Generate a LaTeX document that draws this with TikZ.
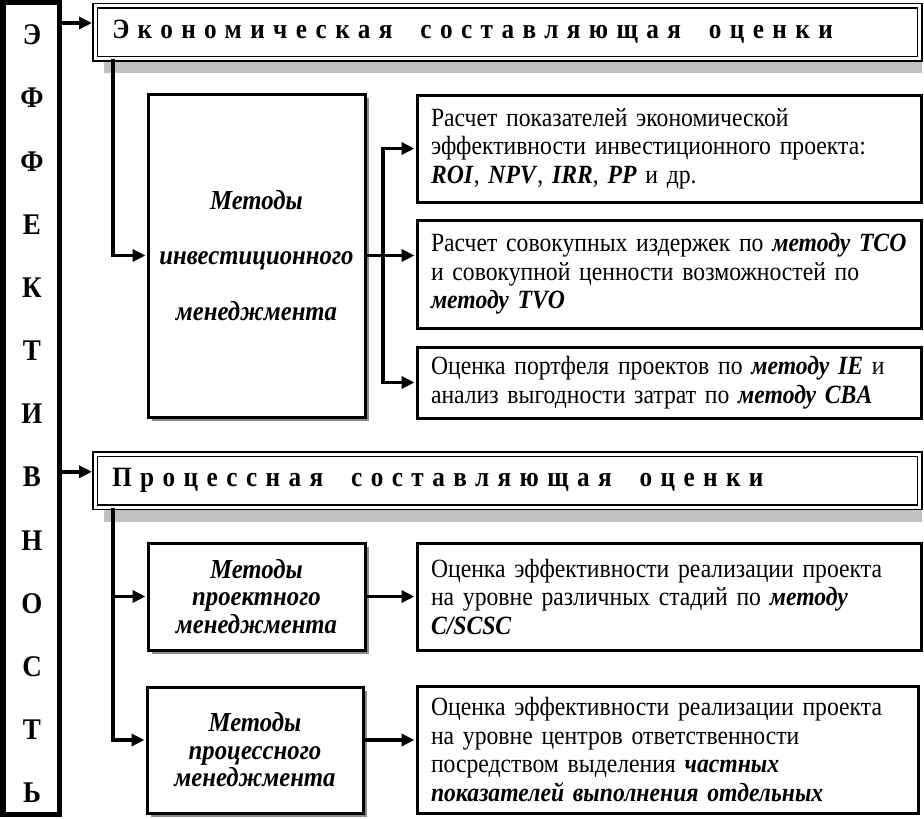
\documentclass[tikz,border=0pt]{standalone}
\usepackage{fontspec}
\setmainfont{Liberation Serif}[FakeStretch=0.9,WordSpace=0.85]
\usetikzlibrary{arrows.meta,shadows}
\definecolor{bandgray}{RGB}{192,192,192}
\definecolor{boxshadow}{RGB}{140,140,140}
\newcommand{\hdrfont}{\fontsize{28}{32}\selectfont\bfseries\addfontfeature{LetterSpace=30}}
\newcommand{\bi}[1]{\textbf{\textit{#1}}}
\newcommand{\wgap}{\hspace{28pt}}
\begin{document}
\begin{tikzpicture}[x=1pt,y=-1pt,
  conn/.style={line width=3.5pt,-{Triangle[length=13pt,width=12pt]},shorten >=1pt},
  trunk/.style={line width=3.5pt,line cap=rect},
  hdr/.style={draw,double,line width=1.5pt,double distance=3pt,fill=white,
    minimum width=824.5pt,minimum height=53pt,inner xsep=17pt,inner ysep=0pt,
    text width=790.5pt,align=left,font=\hdrfont},
  mbox/.style={draw,line width=3pt,fill=white,inner sep=0pt,align=center,
    font=\fontsize{27.5}{27.5}\selectfont\bfseries\itshape,
    drop shadow={shadow xshift=4pt,shadow yshift=-4pt,fill=boxshadow,opacity=1}},
  rbox/.style={draw,line width=3pt,fill=white,inner xsep=14pt,inner ysep=0pt,
    text width=476pt,align=left,font=\fontsize{26.3}{28.5}\selectfont},
  letter/.style={inner sep=0pt,font=\fontsize{30}{32}\selectfont\bfseries}
]
\useasboundingbox (0,0) rectangle (924,819);

% grey bands under the headers
\fill[bandgray] (104,61) rectangle (922,73);
\fill[bandgray] (104,510) rectangle (922,522);

% left vertical box
\node[draw,line width=4.5pt,minimum width=57.5pt,minimum height=813.5pt,inner sep=0pt] (eff) at (31.25,408.25) {};
\draw[line width=1.2pt] ([xshift=5pt,yshift=-5pt]eff.north west) rectangle ([xshift=-4.5pt,yshift=4.5pt]eff.south east);
\foreach \l [count=\i from 0] in {Э,Ф,Ф,Е,К,Т,И,В,Н,О,С,Т,Ь}
  \node[letter] (L\i) at (32,{35+63.17*\i}) {\l};

% headers
\node[hdr] (h1) at (507.5,32) {Экономическая\wgap составляющая\wgap оценки};
\node[hdr] (h2) at (507.5,480.75) {Процессная\wgap составляющая\wgap оценки};

% methods boxes
\node[mbox,minimum width=217pt,minimum height=323pt] (m1) at (256.5,255.5)
  {Методы\\[28pt]инвестиционного\\[28pt]менеджмента};
\node[mbox,minimum width=217pt,minimum height=107pt] (m2) at (256.5,596.5)
  {Методы\\проектного\\менеджмента};
\node[mbox,minimum width=216pt,minimum height=126pt] (m3) at (255,750)
  {Методы\\процессного\\менеджмента};

% right boxes
\node[rbox,minimum height=107pt] (rA) at (669,148.5)
  {Расчет показателей экономической\\эффективности инвестиционного проекта:\\\bi{ROI}, \bi{NPV}, \bi{IRR}, \bi{PP} и др.};
\node[rbox,minimum height=108pt] (rB) at (669,274)
  {\mbox{Расчет совокупных издержек по \bi{методу TCO}}\\и совокупной ценности возможностей по\\\bi{методу TVO}};
\node[rbox,minimum height=71pt] (rC) at (669,382.5)
  {Оценка портфеля проектов по \bi{методу IE} и\\анализ выгодности затрат по \bi{методу CBA}};
\node[rbox,minimum height=107pt] (rD) at (669,596.5)
  {Оценка эффективности реализации проекта\\на уровне различных стадий по \bi{методу}\\\bi{C/SCSC}};
\node[rbox,minimum height=127pt,text width=473pt] (rE) at (667.5,749.5)
  {Оценка эффективности реализации проекта\\на уровне центров ответственности\\посредством выделения \bi{частных}\\\bi{показателей выполнения отдельных}};

% connectors
\coordinate (t1) at (113,0);
\coordinate (j1) at (383,0);
\coordinate (a3) at ([yshift=10pt]m3.west);
\draw[conn,shorten >=2.5pt] ([yshift=9pt]h1.west -| eff.east) -- ([yshift=9pt]h1.west);
\draw[conn,shorten >=2.5pt] ([yshift=9pt]h2.west -| eff.east) -- ([yshift=9pt]h2.west);
\draw[conn] (t1 |- h1.south) |- (m1.west);
\draw[conn] (m1.east) -- (m1.east -| rB.west);
\draw[trunk] (j1 |- rA.west) -- (j1 |- rC.west);
\draw[conn] (j1 |- rA.west) -- (rA.west);
\draw[conn] (j1 |- rC.west) -- (rC.west);
\draw[conn] (t1 |- h2.south) |- (a3);
\draw[conn] (t1 |- m2.west) -- (m2.west);
\draw[conn] (m2.east) -- (rD.west);
\draw[conn] (m3.east |- a3) -- (a3 -| rE.west);
\end{tikzpicture}
\end{document}
